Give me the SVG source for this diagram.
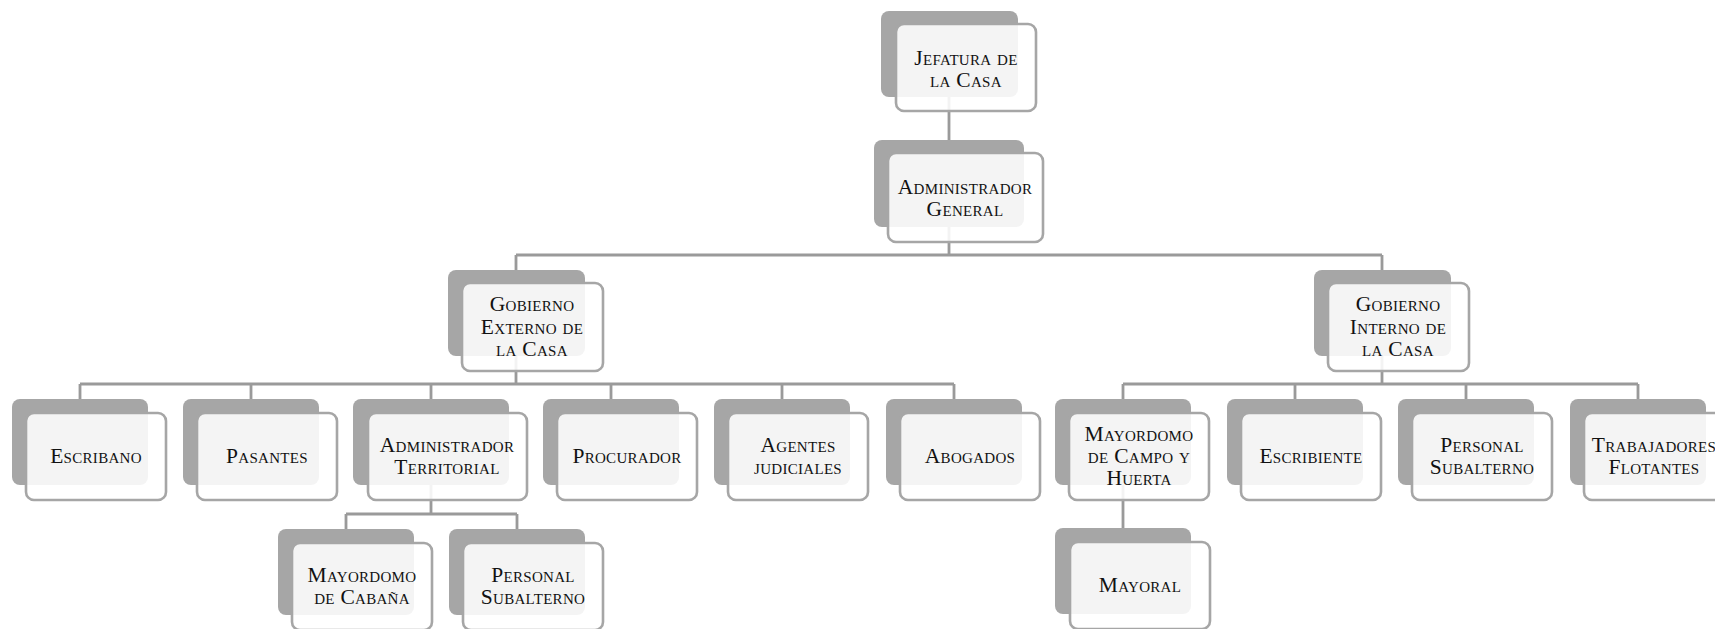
<svg xmlns="http://www.w3.org/2000/svg" width="1715" height="629" viewBox="0 0 1715 629">
<style>
.bg{fill:#ffffff}
.back{fill:#a6a6a6}
.front{fill:#ffffff;fill-opacity:0.88;stroke:#a6a6a6;stroke-width:2.6}
.conn{fill:none;stroke:#9a9a9a;stroke-width:2.8}
text{font-family:"Liberation Serif","DejaVu Serif",serif;font-variant:small-caps;font-size:21.5px;letter-spacing:0.3px;fill:#111111;text-anchor:middle}
</style>
<rect class="bg" x="0" y="0" width="1715" height="629"/>
<g id="connectors">
<path class="conn" d="M949,97 V140"/>
<path class="conn" d="M949,227 V255 M516,255 H1382 M516,255 V270 M1382,255 V270"/>
<path class="conn" d="M516,356 V384 M80,384 H954 M80,384 V399 M251,384 V399 M431,384 V399 M611,384 V399 M782,384 V399 M954,384 V399"/>
<path class="conn" d="M1382,356 V384 M1123,384 H1638 M1123,384 V399 M1295,384 V399 M1466,384 V399 M1638,384 V399"/>
<path class="conn" d="M431,485 V514 M346,514 H517 M346,514 V529 M517,514 V529"/>
<path class="conn" d="M1123,485 V528"/>
</g>
<g id="n-jefatura"><rect class="back" x="881" y="11" width="137" height="86" rx="8"/><rect class="front" x="896" y="24" width="140" height="87" rx="8"/><text x="966" y="65">Jefatura de</text><text x="966" y="87">la Casa</text></g>
<g id="n-admin-general"><rect class="back" x="874" y="140" width="150" height="87" rx="8"/><rect class="front" x="888" y="153" width="155" height="89" rx="8"/><text x="965" y="194">Administrador</text><text x="965" y="216">General</text></g>
<g id="n-gob-externo"><rect class="back" x="448" y="270" width="137" height="86" rx="8"/><rect class="front" x="462" y="283" width="141" height="88" rx="8"/><text x="532" y="311">Gobierno</text><text x="532" y="334">Externo de</text><text x="532" y="356">la Casa</text></g>
<g id="n-gob-interno"><rect class="back" x="1314" y="270" width="137" height="86" rx="8"/><rect class="front" x="1328" y="283" width="141" height="88" rx="8"/><text x="1398" y="311">Gobierno</text><text x="1398" y="334">Interno de</text><text x="1398" y="356">la Casa</text></g>
<g id="n-escribano"><rect class="back" x="12" y="399" width="136" height="86" rx="8"/><rect class="front" x="26" y="413" width="140" height="87" rx="8"/><text x="96" y="463">Escribano</text></g>
<g id="n-pasantes"><rect class="back" x="183" y="399" width="136" height="86" rx="8"/><rect class="front" x="197" y="413" width="140" height="87" rx="8"/><text x="267" y="463">Pasantes</text></g>
<g id="n-admin-territorial"><rect class="back" x="353" y="399" width="156" height="86" rx="8"/><rect class="front" x="368" y="413" width="159" height="87" rx="8"/><text x="447" y="452">Administrador</text><text x="447" y="474">Territorial</text></g>
<g id="n-procurador"><rect class="back" x="543" y="399" width="136" height="86" rx="8"/><rect class="front" x="557" y="413" width="140" height="87" rx="8"/><text x="627" y="463">Procurador</text></g>
<g id="n-agentes"><rect class="back" x="714" y="399" width="136" height="86" rx="8"/><rect class="front" x="728" y="413" width="140" height="87" rx="8"/><text x="798" y="452">Agentes</text><text x="798" y="474">judiciales</text></g>
<g id="n-abogados"><rect class="back" x="886" y="399" width="136" height="86" rx="8"/><rect class="front" x="900" y="413" width="140" height="87" rx="8"/><text x="970" y="463">Abogados</text></g>
<g id="n-mayordomo-campo"><rect class="back" x="1055" y="399" width="136" height="86" rx="8"/><rect class="front" x="1069" y="413" width="140" height="87" rx="8"/><text x="1139" y="441">Mayordomo</text><text x="1139" y="463">de Campo y</text><text x="1139" y="485">Huerta</text></g>
<g id="n-escribiente"><rect class="back" x="1227" y="399" width="136" height="86" rx="8"/><rect class="front" x="1241" y="413" width="140" height="87" rx="8"/><text x="1311" y="463">Escribiente</text></g>
<g id="n-personal-1"><rect class="back" x="1398" y="399" width="136" height="86" rx="8"/><rect class="front" x="1412" y="413" width="140" height="87" rx="8"/><text x="1482" y="452">Personal</text><text x="1482" y="474">Subalterno</text></g>
<g id="n-trabajadores"><rect class="back" x="1570" y="399" width="136" height="86" rx="8"/><rect class="front" x="1584" y="413" width="140" height="87" rx="8"/><text x="1654" y="452">Trabajadores</text><text x="1654" y="474">Flotantes</text></g>
<g id="n-mayordomo-cabana"><rect class="back" x="278" y="529" width="136" height="86" rx="8"/><rect class="front" x="292" y="543" width="140" height="87" rx="8"/><text x="362" y="582">Mayordomo</text><text x="362" y="604">de Cabaña</text></g>
<g id="n-personal-2"><rect class="back" x="449" y="529" width="136" height="86" rx="8"/><rect class="front" x="463" y="543" width="140" height="87" rx="8"/><text x="533" y="582">Personal</text><text x="533" y="604">Subalterno</text></g>
<g id="n-mayoral"><rect class="back" x="1055" y="528" width="136" height="86" rx="8"/><rect class="front" x="1070" y="542" width="140" height="87" rx="8"/><text x="1140" y="592">Mayoral</text></g>
</svg>
